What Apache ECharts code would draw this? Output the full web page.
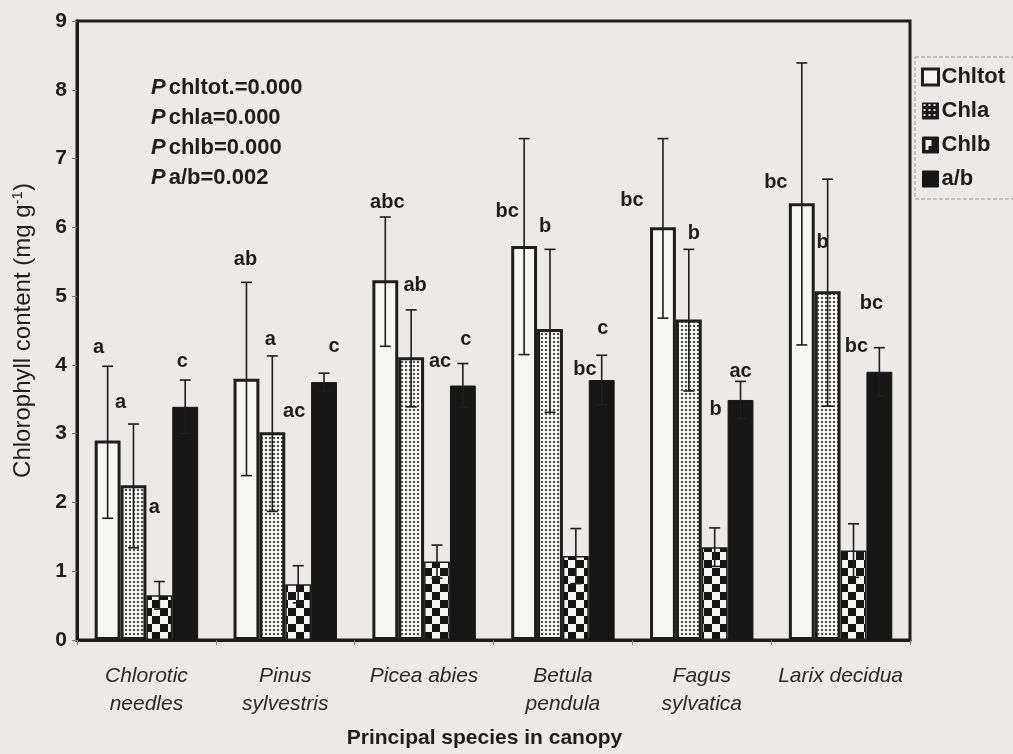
<!DOCTYPE html>
<html><head><meta charset="utf-8">
<script src="https://cdn.jsdelivr.net/npm/echarts@6/dist/echarts.min.js"></script>
<style>html,body{margin:0;padding:0;background:#ebeae6;} #c{width:1013px;height:754px;}</style>
</head><body><div id="c"></div>
<script>
// ---------- data ----------
const categories = ['Chlorotic\nneedles', 'Pinus\nsylvestris', 'Picea abies', 'Betula\npendula', 'Fagus\nsylvatica', 'Larix decidua'];
const seriesNames = ['Chltot', 'Chla', 'Chlb', 'a/b'];
const yTicks = [0, 1, 2, 3, 4, 5, 6, 7, 8, 9];

const chltot = [2.90, 3.80, 5.23, 5.73, 6.00, 6.35];
const chla   = [2.25, 3.02, 4.11, 4.52, 4.66, 5.07];
const chlb   = [0.65, 0.81, 1.14, 1.22, 1.35, 1.30];
const ab     = [3.39, 3.75, 3.70, 3.78, 3.49, 3.90];

const chltotHi = [3.98, 5.20, 6.15, 7.29, 7.29, 8.39];
const chltotLo = [1.77, 2.39, 4.27, 4.15, 4.68, 4.29];
const chlaHi   = [3.14, 4.13, 4.80, 5.68, 5.68, 6.70];
const chlaLo   = [1.34, 1.87, 3.39, 3.31, 3.62, 3.40];
const chlbHi   = [0.85, 1.08, 1.38, 1.62, 1.63, 1.69];
const chlbLo   = [0.45, 0.54, 0.90, 0.82, 1.07, 0.91];
const abHi     = [3.78, 3.88, 4.02, 4.14, 3.76, 4.25];
const abLo     = [3.00, 3.62, 3.38, 3.42, 3.22, 3.55];

const chltotLetters = ['a', 'ab', 'abc', 'bc', 'bc', 'bc'];
const chlaLetters   = ['a', 'a', 'ab', 'b', 'b', 'b'];
const chlbLetters   = ['a', 'ac', 'ac', 'bc', 'b', 'bc'];
const abLetters     = ['c', 'c', 'c', 'c', 'ac', 'bc'];
const chltotLetterY = [4.30, 5.58, 6.41, 6.28, 6.43, 6.70];
const chlaLetterY   = [3.50, 4.42, 5.20, 6.05, 5.95, 5.82];
const chlbLetterY   = [1.97, 3.37, 4.09, 3.98, 3.39, 4.31];
const abLetterY     = [4.09, 4.31, 4.42, 4.58, 3.95, 4.93];

const pValues = ['chltot.=0.000', 'chla=0.000', 'chlb=0.000', 'a/b=0.002'];

// ---------- style ----------
const FONT = '"Liberation Sans", Arial, sans-serif';
const INK = '#1e1e1e';
const BG = '#ebeae6';
const CAT_GAP = 0.255;
const letterShift = [
  [-9, -1, 2, -17, -31, -26],
  [-13, -2, 4, -5, 5, -5],
  [-5, -4, 3, 9, 1, 3],
  [-3, 10, 3, 1, 0, -8]
];

function makeCanvas(size, draw) {
  const c = document.createElement('canvas');
  c.width = c.height = size;
  draw(c.getContext('2d'), size);
  return c;
}
const stipple = makeCanvas(4, (g, s) => {
  g.fillStyle = '#f2f2f0'; g.fillRect(0, 0, s, s);
  g.fillStyle = '#4a4a4a'; g.fillRect(1, 1, 2, 2);
});
const checker = makeCanvas(16, (g, s) => {
  g.fillStyle = '#f4f4f2'; g.fillRect(0, 0, s, s);
  g.fillStyle = '#141414'; g.fillRect(0, 0, 8, 8); g.fillRect(8, 8, 8, 8);
});
const darkStipple = makeCanvas(5, (g, s) => {
  g.fillStyle = '#1a1a1a'; g.fillRect(0, 0, s, s);
  g.fillStyle = '#e8e8e6'; g.fillRect(1, 1, 2, 2);
});
const legendChecker = makeCanvas(16, (g, s) => {
  g.fillStyle = '#1a1a1a'; g.fillRect(0, 0, s, s);
  g.fillStyle = '#f0f0ee'; g.fillRect(3, 3, 6, 6); g.fillRect(3, 9, 3, 4);
});

const barStyles = [
  { color: '#f6f6f4', borderColor: INK, borderWidth: 3 },
  { color: { image: stipple, repeat: 'repeat' }, borderColor: INK, borderWidth: 3 },
  { color: { image: checker, repeat: 'repeat' }, borderColor: INK, borderWidth: 1.5 },
  { color: '#161616', borderColor: '#161616', borderWidth: 1 }
];
const values = [chltot, chla, chlb, ab];
const his = [chltotHi, chlaHi, chlbHi, abHi];
const los = [chltotLo, chlaLo, chlbLo, abLo];
const letters = [chltotLetters, chlaLetters, chlbLetters, abLetters];
const letterY = [chltotLetterY, chlaLetterY, chlbLetterY, abLetterY];

const series = [];
values.forEach((v, i) => {
  series.push({
    name: seriesNames[i], type: 'bar', data: v,
    barGap: '0%', barCategoryGap: (CAT_GAP * 100) + '%',
    itemStyle: barStyles[i], emphasis: { disabled: true }, animation: false
  });
});
values.forEach((v, i) => {
  series.push({
    name: 'err' + i, type: 'custom', z: 5, silent: true, animation: false,
    data: categories.map((c, k) => [k, his[i][k], los[i][k], letterY[i][k]]),
    encode: { x: 0, y: [1, 2, 3] },
    renderItem(params, api) {
      const k = api.value(0);
      const catW = api.size([1, 0])[0];
      const groupW = catW * (1 - CAT_GAP);
      const barW = groupW / 4;
      const base = api.coord([k, 0]);
      const cx = base[0] - groupW / 2 + barW * (i + 0.5);
      const yHi = api.coord([k, api.value(1)])[1];
      const yLo = api.coord([k, api.value(2)])[1];
      const yL = api.coord([k, api.value(3)])[1];
      const cap = 5.5;
      const ls = { stroke: INK, lineWidth: 1.6 };
      return {
        type: 'group',
        children: [
          { type: 'line', shape: { x1: cx, y1: yHi, x2: cx, y2: yLo }, style: ls },
          { type: 'line', shape: { x1: cx - cap, y1: yHi, x2: cx + cap, y2: yHi }, style: ls },
          { type: 'line', shape: { x1: cx - cap, y1: yLo, x2: cx + cap, y2: yLo }, style: ls },
          { type: 'text', style: {
              text: letters[i][k], x: cx + letterShift[i][k], y: yL + 3,
              fill: INK, fontSize: 20, fontWeight: 'bold', fontFamily: FONT,
              align: 'center', verticalAlign: 'middle', textAlign: 'center', textVerticalAlign: 'middle'
          } }
        ]
      };
    }
  });
});

const chart = echarts.init(document.getElementById('c'), null, { renderer: 'canvas' });
chart.setOption({
  backgroundColor: BG,
  animation: false,
  grid: { left: 77, right: 103, top: 21, bottom: 104, show: true, borderColor: INK, borderWidth: 3, backgroundColor: 'transparent' },
  legend: {
    orient: 'vertical', left: 915, top: 57,
    padding: [9, 12, 9, 6], itemGap: 12, itemWidth: 16, itemHeight: 16,
    borderColor: '#9a9a9a', borderWidth: 1, borderType: 'dashed',
    selectedMode: false,
    textStyle: { fontSize: 22, fontWeight: 'bold', color: INK, fontFamily: FONT, padding: [0, 0, 0, -2] },
    data: [
      { name: 'Chltot', icon: 'rect', itemStyle: { color: '#f6f6f4', borderColor: INK, borderWidth: 3 } },
      { name: 'Chla', icon: 'rect', itemStyle: { color: { image: darkStipple, repeat: 'repeat' }, borderColor: INK, borderWidth: 1 } },
      { name: 'Chlb', icon: 'rect', itemStyle: { color: { image: legendChecker, repeat: 'repeat' }, borderColor: INK, borderWidth: 1 } },
      { name: 'a/b', icon: 'rect', itemStyle: { color: '#161616', borderColor: '#161616', borderWidth: 1 } }
    ]
  },
  xAxis: {
    type: 'category', data: categories, boundaryGap: true,
    axisLine: { show: true, lineStyle: { color: INK, width: 3 } },
    axisTick: { show: true, length: 5, lineStyle: { color: '#7a7a7a', width: 1 } },
    axisLabel: { fontSize: 21, fontStyle: 'italic', color: '#2a2a2a', fontFamily: FONT, lineHeight: 28, margin: 22, interval: 0 },
    name: 'Principal species in canopy', nameLocation: 'middle', nameGap: 88,
    nameTextStyle: { fontSize: 21, fontWeight: 'bold', color: INK, fontFamily: FONT, padding: [0, 18, 0, 0] }
  },
  yAxis: {
    type: 'value', min: yTicks[0], max: yTicks[yTicks.length - 1], interval: 1,
    axisLine: { show: true, lineStyle: { color: INK, width: 3 } },
    axisTick: { show: true, length: 5, lineStyle: { color: '#7a7a7a', width: 1 } },
    splitLine: { show: false },
    axisLabel: { fontSize: 21, fontWeight: 'bold', color: INK, fontFamily: FONT, margin: 10 },
    name: 'Chlorophyll content (mg g{sup|-1})', nameLocation: 'middle', nameGap: 41, nameRotate: 90,
    nameTextStyle: { fontSize: 24, color: INK, fontFamily: FONT,
      rich: { sup: { fontSize: 15, color: INK, fontFamily: FONT, padding: [0, 0, 11, 0] } } }
  },
  graphic: [{
    type: 'text', left: 151, top: 77, silent: true,
    style: {
      text: pValues.map(s => '{p|P}{t|' + s + '}').join('\n'),
      rich: {
        p: { fontSize: 22, fontWeight: 'bold', fontStyle: 'italic', fontFamily: FONT, fill: INK, lineHeight: 30, padding: [0, 3, 0, 0] },
        t: { fontSize: 22, fontWeight: 'bold', fontFamily: FONT, fill: INK, lineHeight: 30 }
      }
    }
  }],
  series: series
});
</script>
</body></html>
